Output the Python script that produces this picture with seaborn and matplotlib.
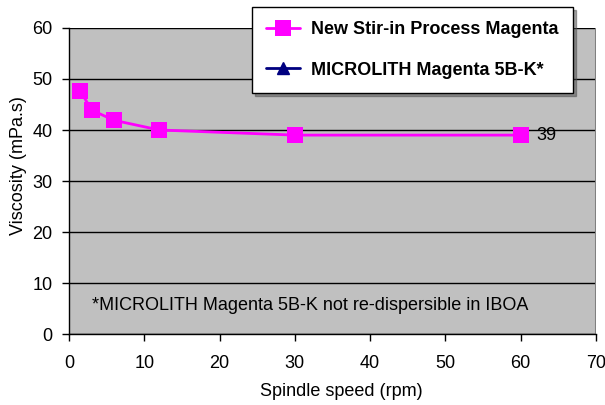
import matplotlib
matplotlib.use("Agg")
import matplotlib.pyplot as plt
import seaborn as sns
import pandas as pd

speed = [1.5, 3, 6, 12, 30, 60]
stir_in = [47.7, 43.9, 41.9, 40, 39, 39]
microlith_speed = []
microlith = []
series_names = ["New Stir-in Process Magenta", "MICROLITH Magenta 5B-K*"]
note = "*MICROLITH Magenta 5B-K not re-dispersible in IBOA"
last_label = "39"

sns.set_theme(style="white")
plt.rcParams['font.family'] = ['Liberation Sans', 'DejaVu Sans']
plt.rcParams['text.color'] = 'black'
plt.rcParams['axes.labelcolor'] = 'black'
plt.rcParams['xtick.color'] = 'black'
plt.rcParams['ytick.color'] = 'black'

fig = plt.figure(figsize=(6.05, 4.05), dpi=100)
ax = fig.add_axes([0.114, 0.175, 0.871, 0.756])
ax.set_facecolor('#C0C0C0')

df = pd.DataFrame({"speed": speed, "visc": stir_in})
sns.lineplot(data=df, x="speed", y="visc", ax=ax, color='#FF00FF', lw=2,
             marker='s', markersize=11, markeredgewidth=0, label=series_names[0],
             zorder=3)
ax.plot(microlith_speed, microlith, color='#000080', lw=2, marker='^',
        markersize=8, label=series_names[1])

ax.set_xlim(0, 70)
ax.set_ylim(0, 60)
ax.set_xticks(range(0, 71, 10))
ax.set_yticks(range(0, 61, 10))
ax.yaxis.grid(True, color='black', lw=1)
ax.set_axisbelow(True)
for s in ['top', 'right']:
    ax.spines[s].set_visible(False)
ax.spines['left'].set_color('black')
ax.spines['bottom'].set_color('black')
ax.spines['left'].set_linewidth(1)
ax.spines['bottom'].set_linewidth(1)
ax.axvline(70, color='#808080', lw=1.5)
ax.tick_params(axis='both', direction='out', length=5, width=1, color='black',
               labelsize=13, bottom=True, left=True)
ax.tick_params(axis='x', pad=10)
ax.tick_params(axis='y', pad=7)
ax.set_xlabel("Spindle speed (rpm)", fontsize=13)
ax.set_ylabel("Viscosity (mPa.s)", fontsize=13)
ax.xaxis.set_label_coords(0.517, -0.158)
ax.yaxis.set_label_coords(-0.080, 0.55)

ax.annotate(last_label, (speed[-1], stir_in[-1]), xytext=(11, 0),
            textcoords='offset points', va='center', ha='left', fontsize=13)
ax.text(3.0, 5.7, note, fontsize=13, va='center', ha='left')

leg = ax.legend(loc='upper right', bbox_to_anchor=(0.957, 1.069),
                frameon=True, fancybox=False, shadow=True,
                prop={'weight': 'bold', 'size': 13}, borderpad=0.8,
                labelspacing=1.3, handlelength=1.9, handletextpad=0.6,
                borderaxespad=0)
leg.get_frame().set_edgecolor('black')
leg.get_frame().set_facecolor('white')
leg.get_frame().set_alpha(1)
leg.get_frame().set_linewidth(1)

fig.savefig("out.png", dpi=100)
